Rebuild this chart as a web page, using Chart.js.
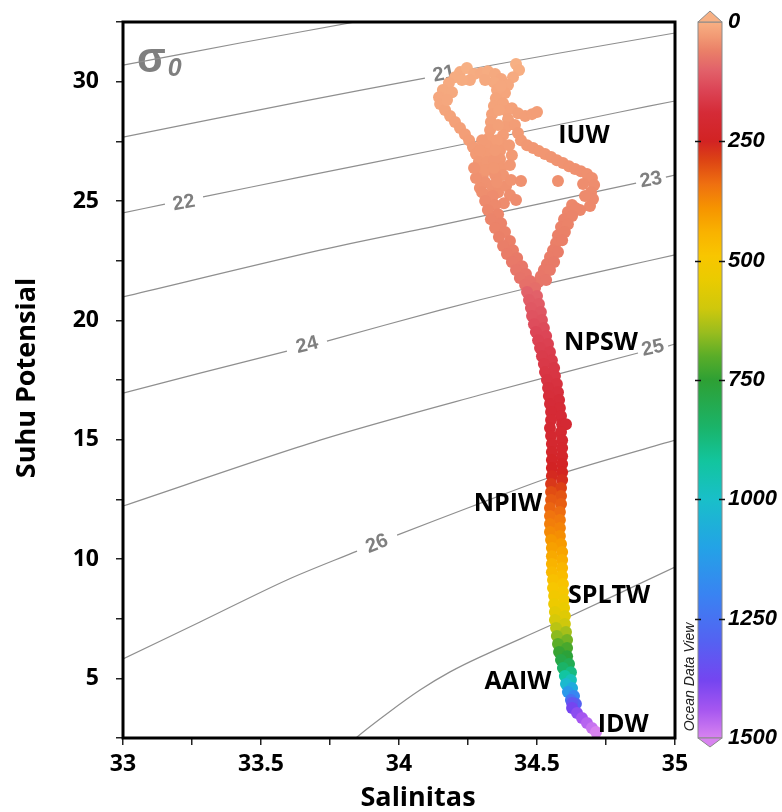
<!DOCTYPE html>
<html>
<head>
<meta charset="utf-8">
<script src="https://cdn.jsdelivr.net/npm/chart.js@4.4.1/dist/chart.umd.min.js"></script>
<style>
  html, body { margin: 0; padding: 0; background: #fff; }
  canvas { display: block; }
</style>
</head>
<body>
<canvas id="tsChart" width="782" height="812"></canvas>
<script>
// T-S diagram: potential temperature vs salinity, dot colour = depth (m)
const salinity = [
  // surface loop / upper cloud
  34.221, 34.246, 34.272, 34.297, 34.322, 34.348, 34.370,
  34.424, 34.435, 34.413, 34.395, 34.384,
  34.203, 34.181, 34.159, 34.145, 34.149, 34.167, 34.185, 34.203, 34.221, 34.239, 34.254, 34.268, 34.279, 34.290, 34.297, 34.304, 34.312,
  34.344, 34.355, 34.351, 34.344, 34.337, 34.333, 34.330, 34.326, 34.322, 34.319, 34.319, 34.315,
  34.377, 34.391, 34.395, 34.388, 34.377, 34.370, 34.366, 34.366, 34.370, 34.377,
  34.301, 34.293, 34.344, 34.348, 34.337, 34.359, 34.388, 34.402, 34.424, 34.380,
  34.409, 34.431, 34.457, 34.482, 34.500, 34.420, 34.431,
  34.370, 34.362, 34.359, 34.355, 34.348, 34.344, 34.355, 34.399, 34.409, 34.402, 34.406,
  34.326, 34.293, 34.279, 34.272, 34.257, 34.312, 34.228, 34.192, 34.174,
  // IUW branch
  34.442, 34.464, 34.486, 34.507, 34.529, 34.551, 34.572, 34.594, 34.616, 34.638, 34.659, 34.681, 34.699, 34.707, 34.696, 34.703, 34.692, 34.667, 34.674, 34.656,
  34.442, 34.576,
  34.627, 34.612, 34.598, 34.587, 34.576, 34.569, 34.558, 34.547, 34.536, 34.525, 34.514, 34.504, 34.576, 34.562, 34.547, 34.533,
  34.641, 34.627, 34.612, 34.601, 34.591,
  // left branch
  34.301, 34.340, 34.312, 34.348, 34.322, 34.359, 34.333, 34.370, 34.348, 34.384, 34.362, 34.402, 34.377, 34.413, 34.391, 34.428, 34.409, 34.446, 34.424, 34.460, 34.438, 34.475, 34.457, 34.493,
  // main stem
  34.464, 34.500, 34.471, 34.507, 34.478, 34.514, 34.482, 34.518, 34.489, 34.525, 34.496, 34.533, 34.504, 34.540, 34.511, 34.547,
  34.518, 34.554, 34.525, 34.562, 34.529, 34.565, 34.536, 34.572, 34.540, 34.576, 34.543, 34.580, 34.547, 34.583, 34.551, 34.587,
  34.551, 34.591, 34.605, 34.547, 34.587, 34.551, 34.591, 34.554, 34.591, 34.554, 34.591, 34.554, 34.591, 34.554, 34.591, 34.554, 34.591,
  34.551, 34.587, 34.551, 34.587, 34.551, 34.587, 34.547, 34.583, 34.547, 34.583, 34.547, 34.583, 34.547, 34.583,
  34.551, 34.587, 34.554, 34.591, 34.554, 34.591, 34.554, 34.591, 34.554, 34.591, 34.558, 34.594, 34.558, 34.594,
  34.562, 34.598, 34.562, 34.598, 34.565, 34.601, 34.565, 34.601, 34.569, 34.605, 34.572, 34.609, 34.576, 34.609,
  34.580, 34.609, 34.587, 34.616, 34.594, 34.623, 34.601, 34.623, 34.605, 34.627, 34.612, 34.634, 34.623, 34.641, 34.627,
  // deep tail
  34.627, 34.645, 34.663, 34.681, 34.699, 34.714
];
const temperature = [
  30.40, 30.57, 30.32, 30.36, 30.44, 30.32, 30.11,
  30.74, 30.49, 30.19, 29.86, 29.52,
  30.19, 29.94, 29.65, 29.35, 29.06, 28.81, 28.56, 28.31, 28.06, 27.80, 27.55, 27.26, 26.97, 26.67, 26.38, 26.09, 25.79,
  29.98, 29.65, 29.31, 28.98, 28.64, 28.31, 27.97, 27.64, 27.30, 26.97, 26.63, 26.30,
  29.10, 28.77, 28.43, 28.10, 27.76, 27.43, 27.09, 26.76, 26.42, 26.09,
  27.55, 27.13, 26.71, 26.09, 25.63, 25.37, 25.63, 25.25, 25.04, 24.91,
  28.89, 28.68, 28.56, 28.64, 28.73, 28.18, 27.85,
  29.82, 28.81, 28.18, 27.55, 27.13, 26.38, 25.79, 27.34, 26.92, 26.51, 25.88,
  25.25, 25.54, 25.96, 26.38, 30.07, 30.07, 30.07, 29.56, 29.23,
  27.55, 27.34, 27.22, 27.09, 26.97, 26.84, 26.71, 26.59, 26.46, 26.34, 26.25, 26.13, 25.96, 25.67, 25.37, 25.08, 24.79, 25.71, 25.21, 24.62,
  25.84, 25.84,
  24.83, 24.54, 24.24, 23.91, 23.57, 23.24, 22.94, 22.65, 22.36, 22.11, 21.85, 21.60, 22.86, 22.44, 22.11, 21.69,
  24.70, 24.37, 24.03, 23.70, 23.36,
  25.37, 25.21, 25.00, 24.83, 24.62, 24.45, 24.24, 24.07, 23.87, 23.70, 23.49, 23.32, 23.11, 22.94, 22.78, 22.61, 22.44, 22.27, 22.11, 21.94, 21.77, 21.65, 21.48, 21.35,
  21.19, 21.02, 20.85, 20.68, 20.52, 20.35, 20.18, 20.01, 19.84, 19.68, 19.51, 19.34, 19.17, 19.01, 18.84, 18.67,
  18.50, 18.33, 18.17, 18.00, 17.83, 17.67, 17.50, 17.33, 17.16, 16.99, 16.83, 16.66, 16.49, 16.33, 16.16, 15.99,
  15.82, 15.65, 15.65, 15.49, 15.32, 15.15, 14.98, 14.82, 14.65, 14.48, 14.31, 14.15, 13.98, 13.81, 13.64, 13.48, 13.31,
  13.14, 12.97, 12.81, 12.64, 12.47, 12.30, 12.14, 11.97, 11.80, 11.63, 11.47, 11.30, 11.13, 10.96,
  10.80, 10.63, 10.46, 10.29, 10.12, 9.96, 9.79, 9.62, 9.45, 9.29, 9.12, 8.95, 8.78, 8.62,
  8.45, 8.28, 8.11, 7.95, 7.78, 7.61, 7.44, 7.28, 7.11, 6.94, 6.77, 6.61, 6.44, 6.27,
  6.10, 5.93, 5.77, 5.60, 5.43, 5.26, 5.10, 4.93, 4.76, 4.59, 4.43, 4.26, 4.09, 3.93, 3.97,
  3.76, 3.55, 3.34, 3.13, 2.92, 2.75
];
const depth = [
  5, 0, 5, 8, 5, 10, 12,
  0, 3, 8, 12, 15,
  6, 8, 10, 12, 14, 16, 18, 20, 22, 24, 26, 28, 30, 32, 34, 36, 40,
  10, 14, 16, 18, 20, 22, 24, 26, 28, 30, 32, 34,
  18, 20, 22, 24, 26, 28, 30, 32, 34, 36,
  28, 30, 33, 38, 40, 42, 40, 44, 46, 46,
  20, 22, 24, 24, 25, 26, 28,
  12, 18, 22, 26, 29, 34, 38, 28, 30, 33, 38,
  42, 42, 40, 38, 8, 10, 6, 10, 12,
  30, 32, 33, 34, 35, 36, 37, 38, 39, 40, 41, 42, 43, 45, 47, 48, 50, 45, 47, 52,
  40, 42,
  52, 54, 56, 58, 60, 62, 64, 66, 68, 70, 72, 74, 66, 68, 70, 74,
  53, 55, 57, 59, 61,
  44, 46, 48, 50, 52, 54, 55, 56, 57, 58, 60, 62, 63, 64, 66, 68, 70, 72, 74, 76, 78, 80, 82, 84,
  100, 102, 108, 110, 115, 117, 122, 125, 130, 133, 140, 142, 147, 150, 153, 156,
  158, 161, 164, 167, 170, 172, 175, 177, 180, 182, 185, 188, 190, 192, 195, 197,
  200, 202, 203, 205, 207, 210, 212, 215, 218, 222, 226, 235, 240, 248, 252, 258, 262,
  275, 285, 300, 308, 315, 320, 328, 335, 345, 352, 360, 366, 375, 382,
  395, 400, 410, 416, 425, 432, 442, 450, 458, 465, 475, 482, 492, 500,
  510, 518, 530, 540, 555, 565, 585, 600, 620, 640, 660, 680, 700, 720,
  740, 760, 785, 810, 845, 880, 925, 970, 1020, 1070, 1130, 1190, 1250, 1300, 1330,
  1380, 1410, 1440, 1460, 1480, 1500
];

// sigma-0 isopycnals (null = gap for the label)
const contourLevels = [20, 21, 22, 23, 24, 25, 26, 27];
const contourSalinity = [
  [33.000, 33.424, 33.859],
  [33.000, 33.641, 34.094, null, 34.239, 34.583, 35.000],
  [33.000, 33.152, null, 33.290, 33.641, 34.149, 34.801, 35.000],
  [33.000, 33.714, 34.149, 34.859, null, 34.967, 35.000],
  [33.000, 33.279, 33.594, null, 33.739, 34.149, 34.438, 34.801, 35.000],
  [33.000, 33.714, 34.293, 34.866, null, 34.975, 35.000],
  [33.000, 33.279, 33.594, 33.848, null, 33.993, 34.268, 34.572, 35.000],
  [33.786, 33.844, 33.960, 34.076, 34.185, 34.293, 34.583, 35.000]
];
const contourTemperature = [
  [30.69, 31.62, 32.54],
  [27.68, 29.15, 30.15, null, 30.49, 31.20, 32.04],
  [24.50, 24.87, null, 25.17, 26.00, 27.18, 28.73, 29.19],
  [20.98, 22.94, 23.99, 25.75, null, 26.00, 26.09],
  [16.95, 17.79, 18.71, null, 19.13, 20.43, 21.27, 22.23, 22.74],
  [12.22, 14.98, 16.87, 18.63, null, 18.92, 19.01],
  [5.81, 7.36, 9.12, 10.33, null, 11.00, 12.22, 13.52, 14.98],
  [1.79, 2.50, 3.55, 4.51, 5.27, 5.89, 7.40, 9.66]
];
const contourLabels = ['21', '22', '23', '24', '25', '26'];
const contourLabelSalinity = [34.163, 33.221, 34.913, 33.667, 34.920, 33.920];
const contourLabelTemperature = [30.32, 24.91, 25.88, 18.96, 18.84, 10.63];

const waterMasses = ['IUW', 'NPSW', 'NPIW', 'SPLTW', 'AAIW', 'IDW'];
const waterMassSalinity = [34.670, 34.732, 34.395, 34.761, 34.431, 34.812];
const waterMassTemperature = [27.72, 19.05, 12.30, 8.45, 4.85, 3.04];

const salinityTicks = [33, 33.5, 34, 34.5, 35];
const salinityMinorTicks = [33.25, 33.75, 34.25, 34.75];
const temperatureTicks = [5, 10, 15, 20, 25, 30];
const temperatureMinorTicks = [2.5, 7.5, 12.5, 17.5, 22.5, 27.5, 32.5];
const depthTicks = [0, 250, 500, 750, 1000, 1250, 1500];

// colour map for depth
const depthColors = [
  [0, '#f7b084'], [30, '#f29a74'], [60, '#ea8068'], [100, '#e2626a'], [140, '#dc4657'],
  [190, '#d52b37'], [250, '#d22323'], [290, '#dd4414'], [340, '#ef7010'], [390, '#f69400'],
  [440, '#f9b200'], [490, '#f8c600'], [540, '#eacb00'], [600, '#cfc80c'], [650, '#9abd1e'],
  [700, '#5aad28'], [750, '#2ea034'], [850, '#1ab46a'], [920, '#12c59e'], [1000, '#19bfc9'],
  [1100, '#23a3e6'], [1200, '#3983f2'], [1300, '#5561f2'], [1380, '#7545f0'], [1440, '#a556f0'],
  [1500, '#d883f0']
];
function hexToRgb(h) { return [1, 3, 5].map(i => parseInt(h.substr(i, 2), 16)); }
function depthColor(d) {
  for (let i = 1; i < depthColors.length; i++) {
    if (d <= depthColors[i][0]) {
      const [d0, c0] = depthColors[i - 1], [d1, c1] = depthColors[i];
      const t = (d - d0) / (d1 - d0);
      const a = hexToRgb(c0), b = hexToRgb(c1);
      return 'rgb(' + a.map((v, k) => Math.round(v + (b[k] - v) * t)).join(',') + ')';
    }
  }
  return depthColors[depthColors.length - 1][1];
}

function splitAtGaps(sArr, tArr) {
  const parts = [[]];
  sArr.forEach((s, j) => {
    if (s === null) parts.push([]);
    else parts[parts.length - 1].push({ x: s, y: tArr[j] });
  });
  return parts;
}

const datasets = [];
contourLevels.forEach((lvl, i) => {
  splitAtGaps(contourSalinity[i], contourTemperature[i]).forEach(part => {
    datasets.push({
      label: 'sigma ' + lvl,
      data: part,
      showLine: true,
      pointRadius: 0,
      borderColor: '#8f8f8f',
      borderWidth: 1.2,
      tension: 0.3,
      order: 2
    });
  });
});
datasets.push({
  label: 'profile',
  data: salinity.map((s, i) => ({ x: s, y: temperature[i] })),
  pointRadius: 6,
  pointHoverRadius: 6,
  pointBorderWidth: 0,
  pointBackgroundColor: depth.map(depthColor),
  order: 1
});

const tickFont = { family: '"Open Sans", sans-serif', size: 23, weight: 'bold' };
const titleFont = 'bold 27px "Open Sans", sans-serif';
const noScalePadding = s => { s.paddingTop = 0; s.paddingBottom = 0; };

const decorations = {
  id: 'decorations',
  beforeDatasetsDraw(chart) {
    const { ctx } = chart;
    const x = chart.scales.x, y = chart.scales.y;
    ctx.save();
    ctx.fillStyle = '#7f7f7f';
    ctx.font = 'bold 20px "Liberation Sans", Arial, sans-serif';
    ctx.textAlign = 'center';
    ctx.textBaseline = 'middle';
    contourLabels.forEach((txt, i) => {
      const li = contourLevels.indexOf(Number(txt));
      const g = contourSalinity[li].indexOf(null);
      const x1 = x.getPixelForValue(contourSalinity[li][g - 1]), y1 = y.getPixelForValue(contourTemperature[li][g - 1]);
      const x2 = x.getPixelForValue(contourSalinity[li][g + 1]), y2 = y.getPixelForValue(contourTemperature[li][g + 1]);
      ctx.save();
      ctx.translate(x.getPixelForValue(contourLabelSalinity[i]), y.getPixelForValue(contourLabelTemperature[i]));
      ctx.rotate(Math.atan2(y2 - y1, x2 - x1));
      ctx.fillText(txt, 0, 0);
      ctx.restore();
    });
    // sigma-0 tag
    const sx = x.getPixelForValue(33.051), sy = y.getPixelForValue(30.40);
    ctx.textAlign = 'left';
    ctx.textBaseline = 'alphabetic';
    ctx.font = 'bold 42px "Liberation Sans", Arial, sans-serif';
    ctx.fillText('σ', sx, sy);
    const w = ctx.measureText('σ').width;
    ctx.font = 'italic bold 25px "Liberation Sans", Arial, sans-serif';
    ctx.fillText('0', sx + w + 2, sy + 4);
    ctx.restore();
  },
  afterDatasetsDraw(chart) {
    const { ctx, chartArea: a } = chart;
    const x = chart.scales.x, y = chart.scales.y;
    ctx.save();
    ctx.strokeStyle = '#000';
    ctx.lineWidth = 3;
    ctx.strokeRect(a.left, a.top, a.right - a.left, a.bottom - a.top);
    ctx.fillStyle = '#000';
    ctx.font = 'bold 25px "Open Sans", sans-serif';
    ctx.textAlign = 'center';
    ctx.textBaseline = 'middle';
    waterMasses.forEach((name, i) => {
      ctx.fillText(name, x.getPixelForValue(waterMassSalinity[i]), y.getPixelForValue(waterMassTemperature[i]));
    });
    ctx.restore();
  },
  afterDraw(chart) {
    const { ctx, chartArea: a } = chart;
    const d = chart.scales.depth;
    const left = 698, right = 722;
    const top = d.getPixelForValue(0), bottom = d.getPixelForValue(1500);
    ctx.save();
    const grad = ctx.createLinearGradient(0, top, 0, bottom);
    depthColors.forEach(([v, c]) => grad.addColorStop(v / 1500, c));
    ctx.fillStyle = grad;
    ctx.fillRect(left, top, right - left, bottom - top);
    ctx.strokeStyle = '#8a8a8a';
    ctx.lineWidth = 1;
    ctx.strokeRect(left, top, right - left, bottom - top);
    // end arrows
    const mid = (left + right) / 2;
    ctx.beginPath();
    ctx.moveTo(left, top); ctx.lineTo(mid, top - 11); ctx.lineTo(right, top); ctx.closePath();
    ctx.fillStyle = depthColors[0][1];
    ctx.fill(); ctx.stroke();
    ctx.beginPath();
    ctx.moveTo(left, bottom); ctx.lineTo(mid, bottom + 9); ctx.lineTo(right, bottom); ctx.closePath();
    ctx.fillStyle = depthColors[depthColors.length - 1][1];
    ctx.fill(); ctx.stroke();
    // tick dashes
    ctx.strokeStyle = '#111';
    ctx.lineWidth = 1.5;
    depthTicks.slice(1, -1).forEach(v => {
      const py = Math.round(d.getPixelForValue(v)) + 0.5;
      ctx.beginPath();
      ctx.moveTo(left - 3, py); ctx.lineTo(left + 3, py);
      ctx.moveTo(right - 3, py); ctx.lineTo(right + 3, py);
      ctx.stroke();
    });
    // ODV mark
    ctx.fillStyle = '#222';
    ctx.font = 'italic 14px "Liberation Sans", Arial, sans-serif';
    ctx.textAlign = 'center';
    ctx.textBaseline = 'middle';
    ctx.save();
    ctx.translate(690, 677);
    ctx.rotate(-Math.PI / 2);
    ctx.fillText('Ocean Data View', 0, 0);
    ctx.restore();
    // axis titles
    ctx.fillStyle = '#000';
    ctx.font = titleFont;
    ctx.fillText('Salinitas', (a.left + a.right) / 2 + 19, 798);
    ctx.save();
    ctx.translate(27, (a.top + a.bottom) / 2 - 2);
    ctx.rotate(-Math.PI / 2);
    ctx.fillText('Suhu Potensial', 0, 0);
    ctx.restore();
    ctx.restore();
  }
};

new Chart(document.getElementById('tsChart').getContext('2d'), {
  type: 'scatter',
  data: { datasets: datasets },
  options: {
    responsive: false,
    animation: false,
    layout: { padding: { top: 22, left: 0, right: 0, bottom: 0 } },
    plugins: { legend: { display: false }, tooltip: { enabled: false } },
    scales: {
      x: {
        type: 'linear', min: 33, max: 35,
        afterFit: s => { s.height = 74; },
        afterBuildTicks: s => { s.ticks = salinityTicks.concat(salinityMinorTicks).sort((p, q) => p - q).map(v => ({ value: v })); },
        ticks: {
          autoSkip: false, maxRotation: 0, padding: 6, color: '#000', font: tickFont,
          callback: v => salinityTicks.includes(v) ? String(v) : ''
        },
        grid: { drawOnChartArea: false, tickLength: 7, color: '#222', lineWidth: 1.5 },
        border: { display: false }
      },
      y: {
        type: 'linear', min: 2.5, max: 32.5,
        afterFit: s => { s.width = 123; noScalePadding(s); },
        afterBuildTicks: s => { s.ticks = temperatureTicks.concat(temperatureMinorTicks).sort((p, q) => p - q).map(v => ({ value: v })); },
        ticks: {
          autoSkip: false, padding: 17, color: '#000', font: tickFont,
          callback: v => temperatureTicks.includes(v) ? String(v) : ''
        },
        grid: { drawOnChartArea: false, tickLength: 7, color: '#222', lineWidth: 1.5 },
        border: { display: false }
      },
      depth: {
        type: 'linear', position: 'right', reverse: true, min: 0, max: 1500,
        afterFit: s => { s.width = 107; noScalePadding(s); },
        afterBuildTicks: s => { s.ticks = depthTicks.map(v => ({ value: v })); },
        ticks: {
          autoSkip: false, padding: 53, color: '#000',
          font: { family: '"Liberation Sans", Arial, sans-serif', size: 22, weight: 'bold', style: 'italic' },
          callback: v => String(v)
        },
        grid: { display: false, drawTicks: false },
        border: { display: false }
      }
    }
  },
  plugins: [decorations]
});
</script>
</body>
</html>
